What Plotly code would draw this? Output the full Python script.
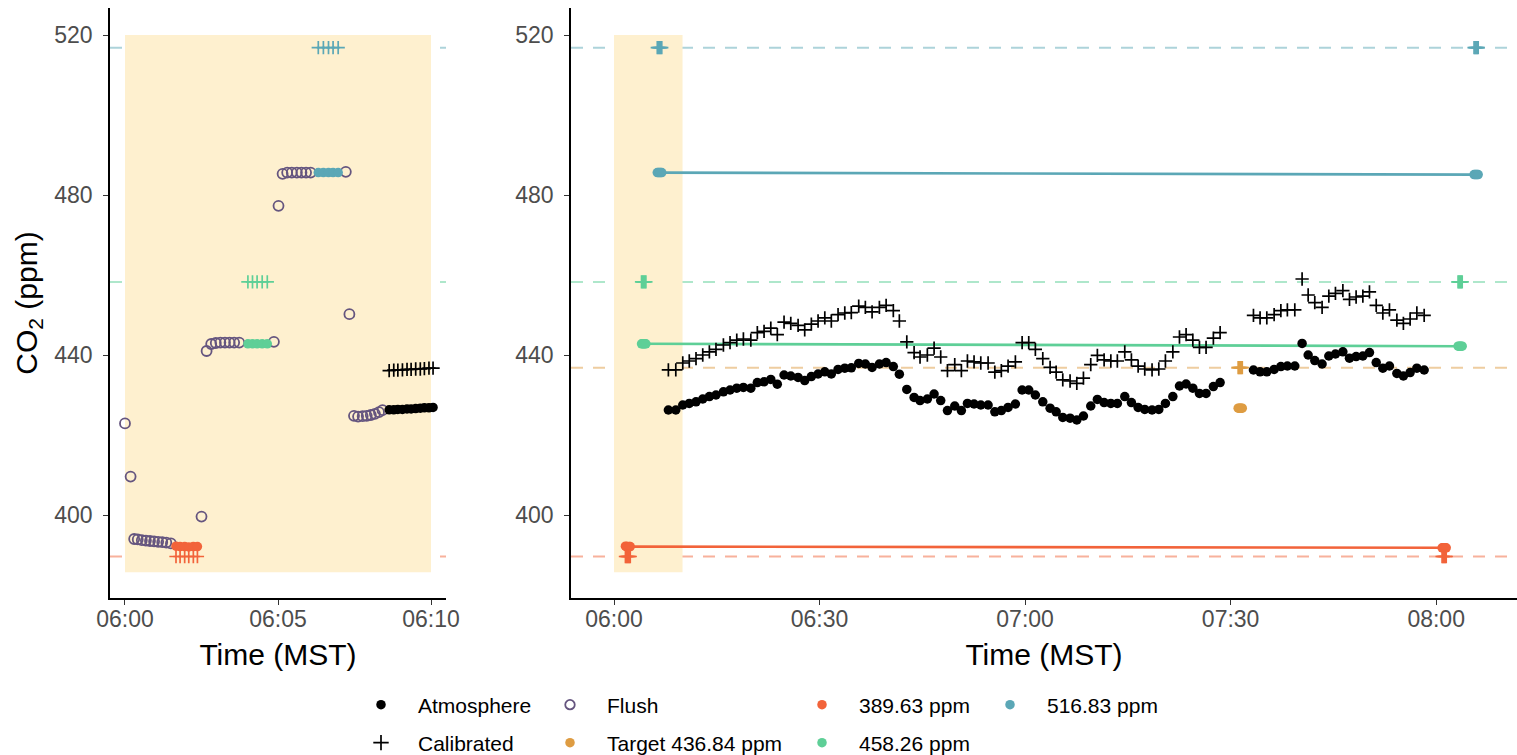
import pandas as pd
import plotly.graph_objects as go

BASE = pd.Timestamp("2021-01-01 06:00:00")

# ---------------- data (seconds after 06:00, ppm) ----------------
# Left panel: raw high-frequency data during the calibration window
flush_sec = [0, 11, 18, 25, 33, 41, 49, 57, 65, 73, 81, 90, 150, 160, 169, 178, 187, 196, 205, 214, 224,
             292, 301, 309, 318, 327, 337, 346, 355, 364, 433, 440, 449, 457, 466, 474, 482, 490, 498, 505]
flush_ppm = [422.9, 409.6, 394.0, 393.9, 393.7, 393.6, 393.5, 393.4, 393.3, 393.2, 393.1, 392.9, 399.6, 441.0,
             442.75, 443.0, 443.1, 443.1, 443.1, 443.1, 443.1, 443.3, 477.3, 485.3, 485.6, 485.6, 485.6, 485.6,
             485.6, 485.6, 485.8, 450.2, 424.8, 424.6, 424.7, 424.8, 425.0, 425.3, 425.7, 426.2]

std_low_sec = [100, 108, 117, 125, 134, 142]
std_low_ppm = [392.2, 392.1, 392.1, 392.0, 392.1, 392.1]
std_mid_sec = [241, 250, 259, 269, 279]
std_mid_ppm = [442.8, 442.8, 442.8, 442.8, 442.8]
std_high_sec = [379, 389, 399, 408, 418]
std_high_ppm = [485.6, 485.6, 485.6, 485.6, 485.6]

atm_raw_sec = [518, 527, 535, 544, 553, 561, 570, 579, 587, 596, 604]
atm_raw_ppm = [426.3, 426.3, 426.4, 426.4, 426.5, 426.5, 426.6, 426.7, 426.8, 426.8, 426.9]
cal_raw_ppm = [436.1, 436.2, 436.2, 436.3, 436.4, 436.4, 436.5, 436.5, 436.6, 436.7, 436.7]

# Right panel: minute data
atm_sec = [476, 541, 602, 659, 718, 777, 835, 893, 958, 1016, 1075, 1133, 1198, 1255, 1314, 1373, 1430, 1489,
           1548, 1612, 1670, 1728, 1787, 1846, 1903, 1962, 2021, 2078, 2143, 2201, 2260, 2324, 2383, 2446, 2499,
           2564, 2628, 2680, 2744, 2803, 2861, 2920, 2984, 3042, 3095, 3153, 3212, 3276, 3335, 3392, 3451, 3515,
           3574, 3632, 3690, 3755, 3819, 3872, 3930, 3994, 4053, 4111, 4175, 4233, 4292, 4351, 4408, 4473, 4531,
           4590, 4648, 4712, 4771, 4829, 4894, 4952, 5010, 5069, 5127, 5185, 5249, 5308, 5600, 5658, 5717, 5781,
           5840, 5897, 5962, 6026, 6079, 6137, 6201, 6260, 6318, 6383, 6441, 6499, 6558, 6616, 6675, 6733, 6791,
           6856, 6913, 6972, 7031, 7095]
atm_ppm = [426.25, 426.25, 427.5, 427.9, 428.3, 429.0, 429.6, 430.0, 430.8, 431.25, 431.7, 431.9, 431.7, 433.1,
           433.3, 433.9, 432.7, 435.0, 434.75, 434.4, 433.6, 434.6, 435.25, 435.8, 435.25, 436.4, 436.7, 436.8,
           437.9, 437.75, 436.9, 437.75, 438.1, 437.1, 435.2, 431.4, 429.4, 428.6, 429.0, 430.25, 428.6, 426.1,
           427.25, 426.1, 427.9, 427.75, 427.5, 427.5, 425.8, 426.1, 426.9, 427.75, 431.25, 431.25, 430.0, 428.3,
           426.7, 425.8, 424.4, 424.2, 423.75, 424.75, 427.25, 428.9, 428.1, 427.9, 427.9, 429.6, 428.1, 426.9,
           426.4, 426.25, 426.4, 427.9, 429.6, 432.25, 432.75, 431.7, 430.4, 430.4, 432.1, 433.1, 436.25, 435.8,
           435.8, 436.4, 437.1, 437.25, 437.25, 442.9, 440.0, 438.6, 437.75, 439.75, 440.25, 440.8, 439.2, 439.6,
           439.75, 440.6, 438.1, 436.7, 437.25, 435.4, 434.75, 435.6, 436.7, 436.25]
cal_ppm = [436.3, 436.3, 438.0, 438.5, 439.1, 440.0, 440.8, 441.4, 442.5, 443.1, 443.7, 444.0, 443.7, 445.6,
           445.9, 446.7, 445.1, 448.2, 447.9, 447.4, 446.3, 447.7, 448.5, 449.3, 448.5, 450.1, 450.5, 450.6,
           452.2, 451.9, 450.8, 451.9, 452.4, 451.1, 448.5, 443.3, 440.6, 439.5, 440.0, 441.7, 439.5, 436.1,
           437.6, 436.1, 438.5, 438.3, 438.0, 438.0, 435.7, 436.1, 437.2, 438.3, 443.1, 443.1, 441.4, 439.1,
           436.9, 435.7, 433.8, 433.5, 432.9, 434.2, 437.6, 439.9, 438.8, 438.5, 438.5, 440.8, 438.8, 437.2,
           436.5, 436.3, 436.5, 438.5, 440.8, 444.5, 445.1, 443.7, 441.9, 441.9, 444.2, 445.6, 449.9, 449.3,
           449.3, 450.1, 451.1, 451.3, 451.3, 459.0, 455.0, 453.1, 451.9, 454.7, 455.4, 456.1, 453.9, 454.5,
           454.7, 455.8, 452.4, 450.5, 451.3, 448.7, 447.9, 449.0, 450.5, 449.9]

# End-of-period standards and mid-period target
end_low_sec = [7252, 7261, 7270, 7279, 7288]
end_low_ppm = [391.8, 391.8, 391.8, 391.8, 391.8]
end_mid_sec = [7392, 7401, 7410, 7419, 7428]
end_mid_ppm = [442.2, 442.2, 442.2, 442.2, 442.2]
end_high_sec = [7532, 7541, 7550, 7559, 7568]
end_high_ppm = [485.1, 485.1, 485.1, 485.1, 485.1]
target_sec = [5466, 5475, 5484, 5493, 5502]
target_ppm = [426.7, 426.7, 426.7, 426.7, 426.7]

# Known reference concentrations
ref_low, ref_target, ref_mid, ref_high = 389.63, 436.84, 458.26, 516.83

# Calibration lines (start mean -> end mean)
line_low_sec, line_low_ppm = [121, 7270], [392.1, 391.8]
line_mid_sec, line_mid_ppm = [260, 7410], [442.8, 442.2]
line_high_sec, line_high_ppm = [399, 7550], [485.6, 485.1]

# Shaded calibration window
window_sec = [0, 600]
window_ppm = [385.7, 520]

left_ticks_sec = [0, 300, 600]
left_ticks_txt = ["06:00", "06:05", "06:10"]
right_ticks_sec = [0, 1800, 3600, 5400, 7200]
right_ticks_txt = ["06:00", "06:30", "07:00", "07:30", "08:00"]
y_ticks = [400, 440, 480, 520]

legend_names = ["Atmosphere", "Calibrated", "Flush", "Target 436.84 ppm", "389.63 ppm", "458.26 ppm", "516.83 ppm"]

# ---------------- styling ----------------
C_RED = "#F2633A"
C_GREEN = "#5ECF97"
C_TEAL = "#5BA7B6"
C_ORANGE = "#DE9C42"
C_FLUSH = "#65557F"
C_WIN = "#FEF0CF"

def rgba(hexc, a):
    h = hexc.lstrip("#")
    return "rgba(%d,%d,%d,%.2f)" % (int(h[0:2], 16), int(h[2:4], 16), int(h[4:6], 16), a)

def T(secs):
    return [BASE + pd.Timedelta(seconds=s) for s in secs]

def const(v, n):
    return [v] * n

DOT = 9.5
PLUS = 9.5
W, H = 1517, 755

fig = go.Figure()

def dots(xs, ys, color, xa, ya, size=DOT):
    fig.add_trace(go.Scatter(x=T(xs), y=ys, mode="markers", xaxis=xa, yaxis=ya, showlegend=False,
                             hoverinfo="skip",
                             marker=dict(symbol="circle", size=size, color=color, line=dict(width=0))))

def pluses(xs, ys, color, xa, ya):
    fig.add_trace(go.Scatter(x=T(xs), y=ys, mode="markers", xaxis=xa, yaxis=ya, showlegend=False,
                             hoverinfo="skip",
                             marker=dict(symbol="cross-thin", size=PLUS, color=color,
                                         line=dict(width=1.7, color=color))))

def seg(xs, ys, color, xa, ya):
    fig.add_trace(go.Scatter(x=T(xs), y=ys, mode="lines", xaxis=xa, yaxis=ya, showlegend=False,
                             hoverinfo="skip", line=dict(color=color, width=2.6)))

# ---- left panel ----
fig.add_trace(go.Scatter(x=T(flush_sec), y=flush_ppm, mode="markers", xaxis="x", yaxis="y", showlegend=False,
                         hoverinfo="skip",
                         marker=dict(symbol="circle-open", size=10, color=C_FLUSH, line=dict(width=1.8, color=C_FLUSH))))
dots(std_low_sec, std_low_ppm, C_RED, "x", "y")
dots(std_mid_sec, std_mid_ppm, C_GREEN, "x", "y")
dots(std_high_sec, std_high_ppm, C_TEAL, "x", "y")
dots(atm_raw_sec, atm_raw_ppm, "black", "x", "y")
pluses(std_low_sec, const(ref_low, len(std_low_sec)), C_RED, "x", "y")
pluses(std_mid_sec, const(ref_mid, len(std_mid_sec)), C_GREEN, "x", "y")
pluses(std_high_sec, const(ref_high, len(std_high_sec)), C_TEAL, "x", "y")
pluses(atm_raw_sec, cal_raw_ppm, "black", "x", "y")

# ---- right panel ----
seg(line_low_sec, line_low_ppm, C_RED, "x2", "y2")
seg(line_mid_sec, line_mid_ppm, C_GREEN, "x2", "y2")
seg(line_high_sec, line_high_ppm, C_TEAL, "x2", "y2")
for s, p, c in [(std_low_sec, std_low_ppm, C_RED), (std_mid_sec, std_mid_ppm, C_GREEN),
                (std_high_sec, std_high_ppm, C_TEAL), (end_low_sec, end_low_ppm, C_RED),
                (end_mid_sec, end_mid_ppm, C_GREEN), (end_high_sec, end_high_ppm, C_TEAL),
                (target_sec, target_ppm, C_ORANGE)]:
    dots(s, p, c, "x2", "y2")
dots(atm_sec, atm_ppm, "black", "x2", "y2")
for s, r, c in [(std_low_sec, ref_low, C_RED), (std_mid_sec, ref_mid, C_GREEN), (std_high_sec, ref_high, C_TEAL),
                (end_low_sec, ref_low, C_RED), (end_mid_sec, ref_mid, C_GREEN), (end_high_sec, ref_high, C_TEAL),
                (target_sec, ref_target, C_ORANGE)]:
    pluses(s, const(r, len(s)), c, "x2", "y2")
pluses(atm_sec, cal_ppm, "black", "x2", "y2")

# ---- legend-only traces (7 separate legends to mimic ggplot layout) ----
leg_specs = [
    (legend_names[0], dict(symbol="circle", size=9.5, color="black"), "legend", 381, 705),
    (legend_names[1], dict(symbol="cross-thin", size=11, color="black", line=dict(width=1.7, color="black")), "legend2", 381, 743),
    (legend_names[2], dict(symbol="circle-open", size=9.5, color=C_FLUSH, line=dict(width=1.8, color=C_FLUSH)), "legend3", 570, 705),
    (legend_names[3], dict(symbol="circle", size=9.5, color=C_ORANGE), "legend4", 570, 743),
    (legend_names[4], dict(symbol="circle", size=9.5, color=C_RED), "legend5", 822, 705),
    (legend_names[5], dict(symbol="circle", size=9.5, color=C_GREEN), "legend6", 822, 743),
    (legend_names[6], dict(symbol="circle", size=9.5, color=C_TEAL), "legend7", 1010, 705),
]
ITEMW = 64
legends = {}
for name, mk, lg, sx, sy in leg_specs:
    fig.add_trace(go.Scatter(x=[None], y=[None], mode="markers", name=name, marker=mk, legend=lg,
                             showlegend=True))
    legends[lg] = dict(x=(sx - ITEMW / 2 - 5) / W, y=1 - sy / H, xanchor="left", yanchor="middle",
                       itemwidth=ITEMW, bgcolor="rgba(0,0,0,0)", borderwidth=0,
                       font=dict(size=21, color="black"), itemclick=False, itemdoubleclick=False)

# ---- shapes ----
shapes = []
for xa, ya in [("x", "y"), ("x2", "y2")]:
    shapes.append(dict(type="rect", xref=xa, yref=ya, x0=T([window_sec[0]])[0], x1=T([window_sec[1]])[0],
                       y0=window_ppm[0], y1=window_ppm[1], fillcolor=C_WIN, line=dict(width=0), layer="below"))
refs_left = [(ref_low, C_RED), (ref_mid, C_GREEN), (ref_high, C_TEAL)]
refs_right = [(ref_low, C_RED), (ref_target, C_ORANGE), (ref_mid, C_GREEN), (ref_high, C_TEAL)]
for xa, ya, refs in [("x", "y", refs_left), ("x2", "y2", refs_right)]:
    for v, c in refs:
        shapes.append(dict(type="line", xref=xa + " domain", yref=ya, x0=0, x1=1, y0=v, y1=v,
                           line=dict(color=rgba(c, 0.5), width=2, dash="12px,10px"), layer="below"))

tickfont = dict(size=23, color="#4D4D4D")
axis_common = dict(showline=True, linecolor="black", linewidth=1.6, ticks="outside", ticklen=5, tickwidth=1.4,
                   tickcolor="#333333", showgrid=False, zeroline=False, tickfont=tickfont, automargin=False)
TITLE_SIZE = 30

y_dom = [1 - 598 / H, 1 - 8 / H]
fig.update_layout(
    width=W, height=H, margin=dict(l=0, r=0, t=0, b=0, autoexpand=False),
    paper_bgcolor="white", plot_bgcolor="white",
    font=dict(family="Liberation Sans, Arial, sans-serif", color="black"),
    shapes=shapes,
    xaxis=dict(domain=[110 / W, 446 / W], anchor="y", type="date",
               range=[BASE - pd.Timedelta(seconds=29.4), BASE + pd.Timedelta(seconds=629.4)],
               tickvals=T(left_ticks_sec), ticktext=left_ticks_txt, ticklabelstandoff=-5,
               title=dict(text="Time (MST)", font=dict(size=TITLE_SIZE, color="black"), standoff=13),
               **axis_common),
    yaxis=dict(domain=y_dom, anchor="x", range=[379.25, 526.75], tickvals=y_ticks, ticklabelstandoff=6,
               title=dict(text="CO<sub>2</sub> (ppm)", font=dict(size=TITLE_SIZE, color="black"), standoff=8),
               **axis_common),
    xaxis2=dict(domain=[571 / W, 1.0], anchor="y2", type="date",
                range=[BASE - pd.Timedelta(minutes=6.28), BASE + pd.Timedelta(minutes=131.8)],
                tickvals=T(right_ticks_sec), ticktext=right_ticks_txt, ticklabelstandoff=-5,
                title=dict(text="Time (MST)", font=dict(size=TITLE_SIZE, color="black"), standoff=13),
                **axis_common),
    yaxis2=dict(domain=y_dom, anchor="x2", range=[379.25, 526.75], tickvals=y_ticks, ticklabelstandoff=6,
                **axis_common),
    **legends,
)

fig.write_html("out.html")
